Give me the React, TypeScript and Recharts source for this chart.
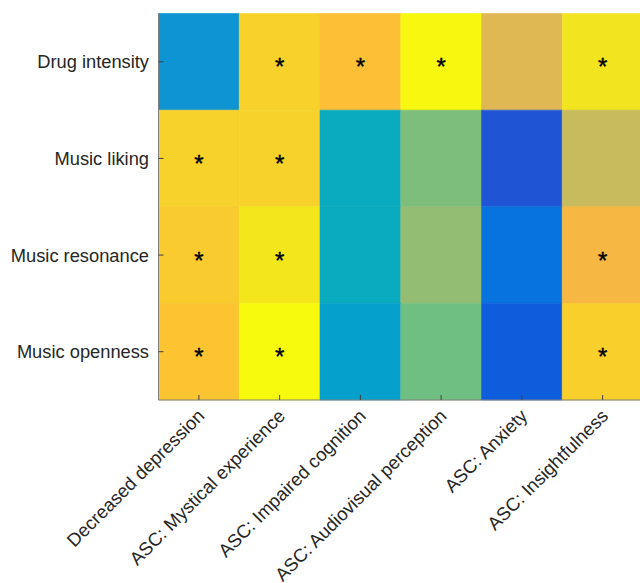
import { ScatterChart, Scatter, XAxis, YAxis, ReferenceArea } from "recharts";

// rows (top to bottom) and columns of the heatmap
const CONDITIONS = ["Drug intensity", "Music liking", "Music resonance", "Music openness"];
const OUTCOMES = [
  "Decreased depression",
  "ASC: Mystical experience",
  "ASC: Impaired cognition",
  "ASC: Audiovisual perception",
  "ASC: Anxiety",
  "ASC: Insightfulness",
];

// colour-scaled values per row (0 = dark blue, 1 = yellow)
const DRUG_INTENSITY = [0.28, 0.845, 0.76, 0.99, 0.68, 0.92];
const MUSIC_LIKING = [0.85, 0.85, 0.36, 0.53, 0.1, 0.64];
const MUSIC_RESONANCE = [0.82, 0.93, 0.36, 0.57, 0.2, 0.73];
const MUSIC_OPENNESS = [0.79, 1.0, 0.32, 0.5, 0.15, 0.835];

// significance markers per row
const SIG_DRUG_INTENSITY = [0, 1, 1, 1, 0, 1];
const SIG_MUSIC_LIKING = [1, 1, 0, 0, 0, 0];
const SIG_MUSIC_RESONANCE = [1, 1, 0, 0, 0, 1];
const SIG_MUSIC_OPENNESS = [1, 1, 0, 0, 0, 1];

const VALUES = [DRUG_INTENSITY, MUSIC_LIKING, MUSIC_RESONANCE, MUSIC_OPENNESS];
const SIGNIFICANT = [SIG_DRUG_INTENSITY, SIG_MUSIC_LIKING, SIG_MUSIC_RESONANCE, SIG_MUSIC_OPENNESS];

// parula-like colormap stops
const COLORMAP: [number, string][] = [
  [0, "#352A87"],
  [0.1, "#1F55D4"],
  [0.15, "#0E5DDD"],
  [0.2, "#0773DE"],
  [0.28, "#0E94D2"],
  [0.32, "#06A0CC"],
  [0.36, "#0AABBE"],
  [0.5, "#6FBF82"],
  [0.53, "#7DBE7B"],
  [0.57, "#93BD72"],
  [0.64, "#C8BB5D"],
  [0.68, "#E0B853"],
  [0.73, "#F6B842"],
  [0.76, "#FCBF36"],
  [0.79, "#FCC431"],
  [0.82, "#FACB2E"],
  [0.85, "#F7D22A"],
  [0.92, "#F2E41E"],
  [1, "#F8FA0E"],
];

const FONT = "'Liberation Sans', Arial, Helvetica, sans-serif";

const toRgb = (hex: string) => [1, 3, 5].map((i) => parseInt(hex.slice(i, i + 2), 16));

const colorFor = (v: number) => {
  for (let i = 1; i < COLORMAP.length; i++) {
    const [t1, c1] = COLORMAP[i];
    const [t0, c0] = COLORMAP[i - 1];
    if (v <= t1) {
      const f = (v - t0) / (t1 - t0);
      const a = toRgb(c0);
      const b = toRgb(c1);
      return `rgb(${a.map((x, k) => Math.round(x + (b[k] - x) * f)).join(",")})`;
    }
  }
  return COLORMAP[COLORMAP.length - 1][1];
};

const cells = VALUES.flatMap((row, r) =>
  row.map((value, c) => ({ x: c + 1, y: r + 1, value }))
);

const stars = SIGNIFICANT.flatMap((row, r) =>
  row.map((s, c) => ({ x: c + 1, y: r + 1, s })).filter((d) => d.s)
);

const StarMark = (props: any) => (
  <text
    x={props.cx}
    y={props.cy + 13.5}
    textAnchor="middle"
    fontSize={24}
    fontFamily={FONT}
    fill="#000"
    stroke="#000"
    strokeWidth={0.4}
  >
    *
  </text>
);

const XTick = (props: any) => {
  const { x, y, payload } = props;
  return (
    <text
      x={x + 2}
      y={y}
      textAnchor="end"
      dominantBaseline="central"
      fontSize={18.5}
      fontFamily={FONT}
      fill="#262626"
      transform={`rotate(-45 ${x + 2} ${y})`}
    >
      {OUTCOMES[payload.value - 1]}
    </text>
  );
};

export default function App() {
  return (
    <div style={{ position: "fixed", top: 0, left: 0, width: 640, height: 583, overflow: "hidden", background: "#fff" }}>
      <ScatterChart width={650} height={583} margin={{ top: 13.5, right: 7, left: 0, bottom: 0 }}>
        <XAxis
          type="number"
          dataKey="x"
          domain={[0.5, 6.5]}
          ticks={[1, 2, 3, 4, 5, 6]}
          interval={0}
          height={183}
          tickSize={-5}
          tickMargin={17.5}
          axisLine={{ stroke: "#808080" }}
          tickLine={{ stroke: "#404040" }}
          tick={<XTick />}
        />
        <YAxis
          type="number"
          dataKey="y"
          domain={[0.5, 4.5]}
          ticks={[1, 2, 3, 4]}
          interval={0}
          reversed
          width={158.5}
          tickSize={-5}
          tickMargin={14.5}
          axisLine={{ stroke: "#808080" }}
          tickLine={{ stroke: "#404040" }}
          tick={{ fontSize: 18.3, fill: "#262626", fontFamily: FONT }}
          tickFormatter={(v: number) => CONDITIONS[v - 1]}
        />
        {cells.map((d) => (
          <ReferenceArea
            key={`${d.x}-${d.y}`}
            x1={d.x - 0.5}
            x2={d.x + 0.5}
            y1={d.y - 0.5}
            y2={d.y + 0.5}
            fill={colorFor(d.value)}
            fillOpacity={1}
            stroke={colorFor(d.value)}
            strokeWidth={0.6}
          />
        ))}
        <Scatter data={stars} shape={<StarMark />} isAnimationActive={false} />
      </ScatterChart>
    </div>
  );
}
